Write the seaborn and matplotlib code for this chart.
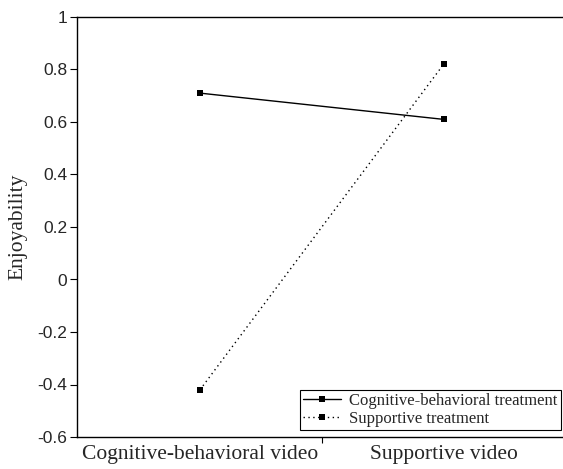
import matplotlib
matplotlib.use("Agg")
import matplotlib.pyplot as plt
import seaborn as sns
import pandas as pd
from matplotlib.lines import Line2D

videos = ["Cognitive-behavioral video", "Supportive video"]
treatments = ["Cognitive-behavioral treatment", "Supportive treatment"]
cbt_values = [0.71, 0.61]
sup_values = [-0.42, 0.82]
yticks = [-0.6, -0.4, -0.2, 0, 0.2, 0.4, 0.6, 0.8, 1]
ytick_labels = ["-0.6", "-0.4", "-0.2", "0", "0.2", "0.4", "0.6", "0.8", "1"]

df = pd.DataFrame({
    "video": videos * 2,
    "treatment": [treatments[0]] * 2 + [treatments[1]] * 2,
    "enjoy": cbt_values + sup_values,
})

sns.set_style("white")
plt.rcParams["axes.unicode_minus"] = False

fig = plt.figure(figsize=(5.63, 4.69), dpi=100)
W, H = 563, 469
ax = fig.add_axes([77 / W, (H - 437) / H, (W - 77) / W, (437 - 17) / H])

sns.lineplot(data=df, x="video", y="enjoy", hue="treatment", style="treatment",
             palette=["black", "black"], dashes={treatments[0]: "", treatments[1]: (1, 2.5)},
             markers={treatments[0]: "s", treatments[1]: "s"}, markersize=4.5,
             linewidth=1.0, markeredgewidth=0, ax=ax, legend=False, sort=False)

ax.set_xlim(-0.505, 1.49)
ax.set_ylim(-0.6, 1.0)
ax.set_yticks(yticks)
ax.set_yticklabels(ytick_labels, family="Liberation Sans", fontsize=12.5)
ax.set_xticks([0, 1])
ax.set_xticklabels(videos, family="Liberation Serif", fontsize=15.5)
ax.set_xticks([0.5], minor=True)
ax.tick_params(axis="x", which="major", length=0, pad=6)
ax.tick_params(axis="x", which="minor", length=4, width=0.8, direction="out", color="black", bottom=True)
ax.tick_params(axis="y", which="major", length=5, width=0.8, direction="out", color="black", left=True, pad=2)
ax.set_xlabel("")
ax.set_ylabel("Enjoyability", family="Liberation Serif", fontsize=15.5, labelpad=7)

for s in ["left", "top", "bottom"]:
    ax.spines[s].set_visible(True)
    ax.spines[s].set_color("black")
    ax.spines[s].set_linewidth(1.0)
ax.spines["right"].set_visible(False)

handles = [
    Line2D([], [], color="black", lw=1.0, ls="-", marker="s", markersize=4.5, markeredgewidth=0),
    Line2D([], [], color="black", lw=1.0, ls=(0, (1, 2.5)), marker="s", markersize=4.5, markeredgewidth=0),
]
leg = ax.legend(handles, treatments, loc="lower right", bbox_to_anchor=(1.0, 0.01),
                prop={"family": "Liberation Serif", "size": 12}, frameon=True, fancybox=False,
                edgecolor="black", framealpha=1, borderpad=0.2, handlelength=2.3,
                labelspacing=0.1, handletextpad=0.45, borderaxespad=0.15)
leg.get_frame().set_linewidth(0.8)

fig.savefig("out.png", dpi=100)
